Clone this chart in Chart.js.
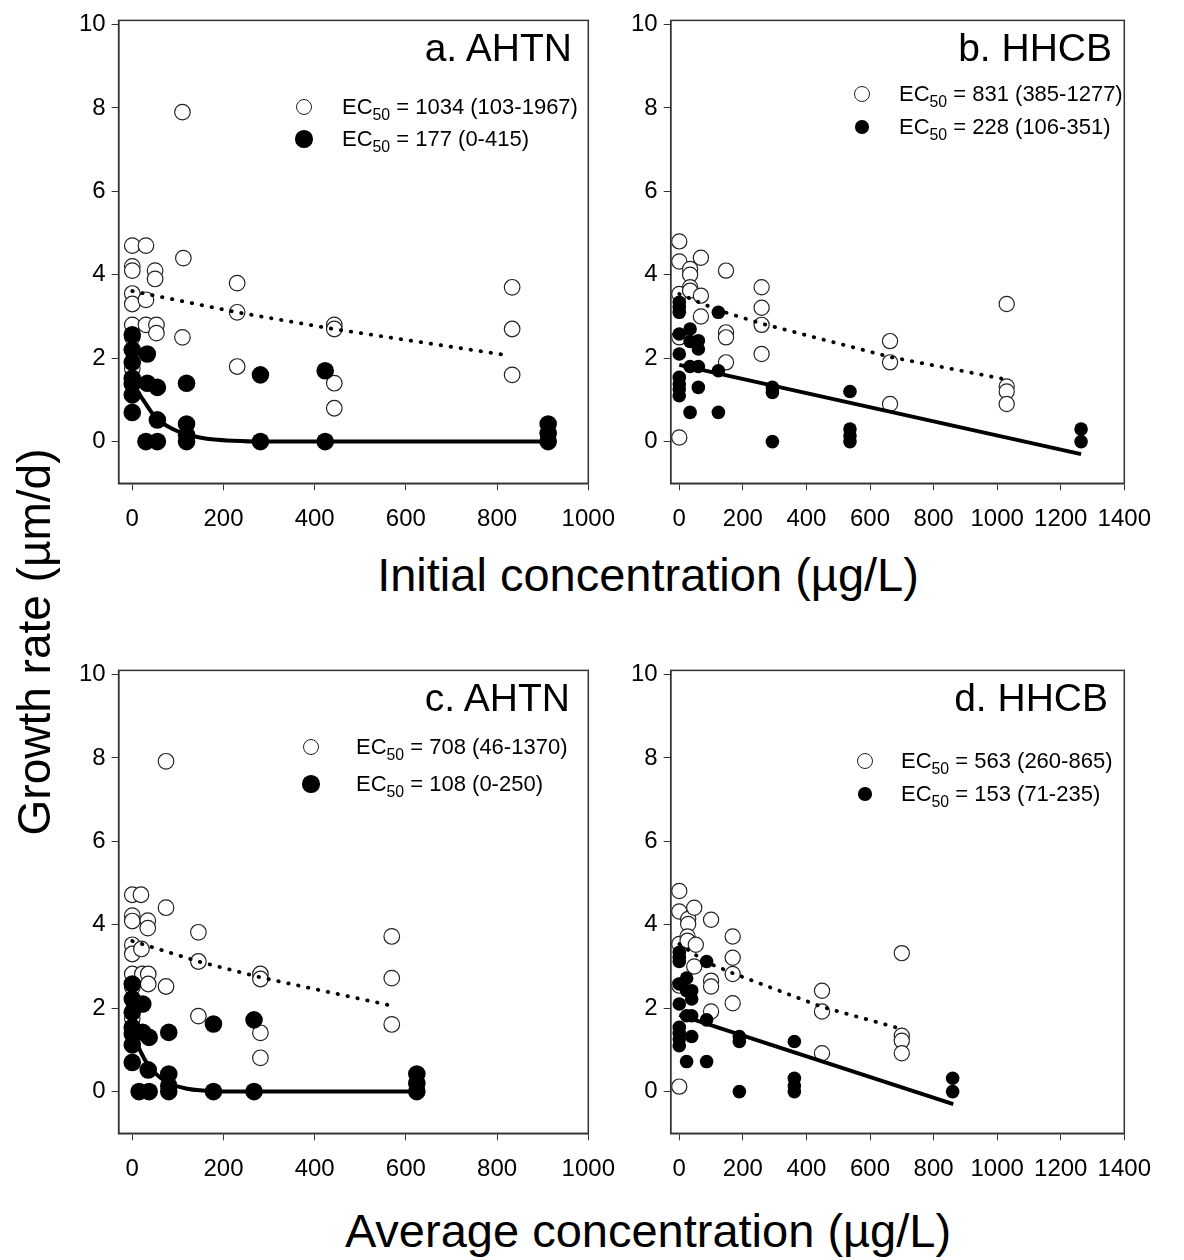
<!DOCTYPE html>
<html><head><meta charset="utf-8">
<script src="https://cdn.jsdelivr.net/npm/chart.js@4.4.0/dist/chart.umd.min.js"></script>
<style>
html,body{margin:0;padding:0;background:#fff;}
#wrap{position:relative;width:1184px;height:1260px;overflow:hidden;font-family:'Liberation Sans',Arial,sans-serif;color:#000;}
canvas{position:absolute;}
.t{position:absolute;white-space:nowrap;line-height:1;}
.lg{position:absolute;white-space:nowrap;line-height:1;font-size:22px;}
.lg sub{font-size:0.72em;vertical-align:-6px;line-height:0;}
.mk{position:absolute;border-radius:50%;box-sizing:border-box;}
</style></head><body>
<div id="wrap">
<canvas id="ca" width="600" height="545" style="left:30px;top:0px"></canvas>
<canvas id="cb" width="584" height="545" style="left:600px;top:0px"></canvas>
<canvas id="cc" width="600" height="545" style="left:30px;top:650px"></canvas>
<canvas id="cd" width="584" height="545" style="left:600px;top:650px"></canvas>
</div>
<script>
// ---------- data ----------
const yTicks = [0, 2, 4, 6, 8, 10];
const xTicksAHTN = [0, 200, 400, 600, 800, 1000];
const xTicksHHCB = [0, 200, 400, 600, 800, 1000, 1200, 1400];

// a. AHTN (initial concentration)
const aOpenX = [0,0,0,0,0,0,0,0, 30,30,30, 50,50,53,53, 110,112,110, 230,230,230, 443,443,443,443, 833,833,833];
const aOpenY = [4.7,4.2,4.1,3.55,3.3,2.8,2.5,1.75, 4.7,3.4,2.8, 4.1,3.9,2.8,2.6, 7.9,4.4,2.5, 3.8,3.1,1.8, 2.8,2.7,1.4,0.8, 3.7,2.7,1.6];
const aFillX = [0,0,0,0,0,0,0, 33,33,30, 55,55,55, 119,119,119,119, 281,281, 423,423, 912,912,912];
const aFillY = [2.56,2.2,1.9,1.52,1.38,1.12,0.7, 2.1,1.4,0, 1.3,0.52,0, 1.4,0.42,0.16,0, 1.6,0, 1.7,0, 0.42,0.2,0];
const aDotX = [0, 230, 441, 817];
const aDotY = [3.61, 3.1, 2.7, 2.08];
const aFitX = [0, 13, 30, 46, 70, 97, 120, 148, 180, 221, 280, 912];
const aFitY = [1.42, 1.18, 0.9, 0.65, 0.42, 0.26, 0.17, 0.1, 0.05, 0.02, 0, 0];

// b. HHCB (initial concentration)
const bOpenX = [0,0,0,0,0, 34,34,34,34, 68,68,68, 147,147,147,147, 259,259,259,259, 663,663,663, 1030,1030,1030,1030];
const bOpenY = [4.8,4.32,3.54,2.5,0.1, 4.14,4.0,3.7,3.62, 4.41,3.5,3.0, 4.1,2.62,2.5,1.9, 3.7,3.21,2.8,2.1, 2.41,1.9,0.9, 3.3,1.32,1.2,0.9];
const bFillX = [0,0,0,0,0,0,0,0,0, 34,34,34,34, 60,60,60,60, 123,123,123, 293,293,293, 537,537,537,537, 1264,1264];
const bFillY = [3.34,3.22,3.1,2.58,2.1,1.54,1.38,1.26,1.1, 2.7,2.4,1.8,0.7, 2.42,2.22,1.8,1.3, 3.1,1.7,0.7, 1.3,1.18,0, 1.2,0.3,0.14,0, 0.3,0];
const bDotX = [0, 123, 259, 663, 1022];
const bDotY = [3.54, 3.15, 2.83, 2.03, 1.5];
const bFitX = [0, 1264];
const bFitY = [1.84, -0.3];

// c. AHTN (average concentration)
const cOpenX = [0,0,0,0,0,0,0,0, 19,20,22, 34,34,35,35, 74,74,74, 145,145,145, 281,281,281,281, 569,569,569];
const cOpenY = [4.72,4.22,4.09,3.52,3.3,2.82,2.5,1.75, 4.72,3.42,2.82, 4.1,3.92,2.82,2.58, 7.92,4.41,2.52, 3.82,3.12,1.81, 2.82,2.7,1.41,0.81, 3.72,2.72,1.61];
const cFillX = [0,0,0,0,0,0,0, 23,23,15, 37,35,37, 80,80,80,80, 178,178, 267,267, 624,624,624];
const cFillY = [2.58,2.22,1.9,1.54,1.38,1.12,0.7, 2.1,1.42,0, 1.3,0.52,0, 1.42,0.42,0.14,0, 1.62,0, 1.72,0, 0.42,0.2,0];
const cDotX = [0, 145, 281, 569];
const cDotY = [3.61, 3.12, 2.74, 2.06];
const cFitX = [0, 9, 20, 31, 45, 61, 80, 97, 120, 148, 192, 624];
const cFitY = [1.4, 1.18, 0.92, 0.7, 0.5, 0.34, 0.2, 0.13, 0.07, 0.03, 0, 0];

// d. HHCB (average concentration)
const dOpenX = [0,0,0,0,0, 28,28,26,26, 47,52,47, 100,100,100,100, 168,168,168,168, 449,449,449, 700,700,700,700];
const dOpenY = [4.81,4.32,3.54,2.54,0.12, 4.14,4.02,3.72,3.62, 4.41,3.52,3.0, 4.12,2.66,2.52,1.92, 3.72,3.21,2.82,2.12, 2.42,1.92,0.92, 3.32,1.34,1.22,0.92];
const dFillX = [0,0,0,0,0,0,0,0,0, 23,23,23,23, 39,39,39,39, 86,86,86, 189,189,189, 362,362,362,362, 860,860];
const dFillY = [3.34,3.22,3.12,2.58,2.1,1.54,1.4,1.26,1.1, 2.72,2.42,1.82,0.72, 2.42,2.22,1.82,1.32, 3.12,1.72,0.72, 1.32,1.2,0, 1.2,0.32,0.14,0, 0.32,0];
const dDotX = [0, 86, 168, 449, 700];
const dDotY = [3.54, 3.1, 2.84, 2.03, 1.5];
const dFitX = [0, 862];
const dFitY = [1.84, -0.3];

// ---------- drawing ----------
const FONT = "'Liberation Sans', Arial, sans-serif";
const zip = (xs, ys) => xs.map((x, i) => ({x: x, y: ys[i]}));

const framePlugin = {
  id: 'frame',
  afterDraw(chart) {
    const {ctx, chartArea: a} = chart;
    ctx.save();
    ctx.strokeStyle = '#333';
    ctx.lineWidth = 1.5;
    ctx.strokeRect(a.left, a.top, a.right - a.left, a.bottom - a.top);
    ctx.restore();
  }
};

function makePanel(id, cfg) {
  const ds = [
    {data: zip(cfg.fitX, cfg.fitY), showLine: true, pointRadius: 0, borderColor: '#000', borderWidth: 4,
     cubicInterpolationMode: cfg.curve ? 'monotone' : 'default', tension: 0, fill: false},
    {data: zip(cfg.dotX, cfg.dotY), showLine: true, pointRadius: 0, borderColor: '#000', borderWidth: 3.8,
     borderDash: [0.5, 9.6], borderCapStyle: 'round', tension: 0, fill: false},
    {data: zip(cfg.fillX, cfg.fillY), showLine: false, pointRadius: cfg.fillR, pointBorderWidth: 0,
     pointBackgroundColor: '#000', pointBorderColor: '#000'},
    {data: zip(cfg.openX, cfg.openY), showLine: false, pointRadius: cfg.openR, pointBorderWidth: 1.2,
     pointBackgroundColor: '#fff', pointBorderColor: '#222'}
  ];
  return new Chart(document.getElementById(id), {
    type: 'scatter',
    data: {datasets: ds},
    options: {
      responsive: false, animation: false, devicePixelRatio: 1,
      layout: {padding: {top: 15.3, right: cfg.padR, left: 0, bottom: 0}},
      plugins: {legend: {display: false}, tooltip: {enabled: false}},
      scales: {
        x: {
          type: 'linear', min: cfg.xmin, max: cfg.xmax,
          afterBuildTicks: s => { s.ticks = cfg.xTicks.map(v => ({value: v})); },
          afterFit: s => { s.height = 545 - 483.3; },
          grid: {drawOnChartArea: false, drawTicks: true, tickLength: 7, color: '#333', lineWidth: 1},
          border: {display: true, color: '#333', width: 1.5},
          ticks: {font: {size: 24, family: FONT}, color: '#000', padding: 15, maxRotation: 0, autoSkip: false,
                  callback: v => String(v)}
        },
        y: {
          type: 'linear', min: -1, max: 10.1,
          afterBuildTicks: s => { s.ticks = yTicks.map(v => ({value: v})); },
          afterFit: s => { s.width = cfg.yW; },
          grid: {drawOnChartArea: false, drawTicks: true, tickLength: 7, color: '#333', lineWidth: 1},
          border: {display: true, color: '#333', width: 1.5},
          ticks: {font: {size: 24, family: FONT}, color: '#000', padding: 6, callback: v => String(v)}
        }
      }
    },
    plugins: [framePlugin]
  });
}

makePanel('ca', {xmin: -30, xmax: 1000, xTicks: xTicksAHTN, yW: 88.6, padR: 41.7, fillR: 8.8, openR: 7.8, curve: true,
  openX: aOpenX, openY: aOpenY, fillX: aFillX, fillY: aFillY, dotX: aDotX, dotY: aDotY, fitX: aFitX, fitY: aFitY});
makePanel('cb', {xmin: -27, xmax: 1400, xTicks: xTicksHHCB, yW: 70.7, padR: 59.7, fillR: 6.8, openR: 7.6, curve: false,
  openX: bOpenX, openY: bOpenY, fillX: bFillX, fillY: bFillY, dotX: bDotX, dotY: bDotY, fitX: bFitX, fitY: bFitY});
makePanel('cc', {xmin: -30, xmax: 1000, xTicks: xTicksAHTN, yW: 88.6, padR: 41.7, fillR: 8.8, openR: 7.8, curve: true,
  openX: cOpenX, openY: cOpenY, fillX: cFillX, fillY: cFillY, dotX: cDotX, dotY: cDotY, fitX: cFitX, fitY: cFitY});
makePanel('cd', {xmin: -27, xmax: 1400, xTicks: xTicksHHCB, yW: 70.7, padR: 59.7, fillR: 6.8, openR: 7.6, curve: false,
  openX: dOpenX, openY: dOpenY, fillX: dFillX, fillY: dFillY, dotX: dDotX, dotY: dDotY, fitX: dFitX, fitY: dFitY});

// ---------- texts ----------
const wrap = document.getElementById('wrap');
function addText(html, cls, style) {
  const d = document.createElement('div');
  d.className = cls; d.innerHTML = html; d.setAttribute('style', style);
  wrap.appendChild(d); return d;
}
function addMarker(cx, cy, d, filled) {
  const m = document.createElement('div');
  m.className = 'mk';
  m.setAttribute('style', `left:${cx - d / 2}px;top:${cy - d / 2}px;width:${d}px;height:${d}px;` +
    (filled ? 'background:#000;' : 'background:#fff;border:1.2px solid #222;'));
  wrap.appendChild(m);
}
// panel titles (right aligned)
const titles = [['a. AHTN', 572, 61], ['b. HHCB', 1112, 61], ['c. AHTN', 570, 711], ['d. HHCB', 1108, 711]];
titles.forEach(([s, r, base]) => addText(s, 't', `font-size:39px;right:${1184 - r}px;top:${base - 0.8465 * 39}px;`));

// legends: [markerX, y1, y2, textX, openD, fillD, text1, text2]
const legends = [
  [304, 107, 139, 342, 16, 17.5, 'EC<sub>50</sub> = 1034 (103-1967)', 'EC<sub>50</sub> = 177 (0-415)'],
  [862, 94, 127, 899, 16, 13.5, 'EC<sub>50</sub> = 831 (385-1277)', 'EC<sub>50</sub> = 228 (106-351)'],
  [311, 747, 784, 356, 16, 17.5, 'EC<sub>50</sub> = 708 (46-1370)', 'EC<sub>50</sub> = 108 (0-250)'],
  [865, 761, 794, 901, 16, 13.5, 'EC<sub>50</sub> = 563 (260-865)', 'EC<sub>50</sub> = 153 (71-235)']
];
legends.forEach(([mx, y1, y2, tx, od, fd, t1, t2]) => {
  addMarker(mx, y1, od, false);
  addMarker(mx, y2, fd, true);
  addText(t1, 'lg', `left:${tx}px;top:${y1 - 10.7}px;`);
  addText(t2, 'lg', `left:${tx}px;top:${y2 - 10.7}px;`);
});

// axis titles
addText('Initial concentration (µg/L)', 't', `font-size:47px;left:${648 - 400}px;width:800px;text-align:center;top:${591 - 0.8465 * 47}px;`);
addText('Average concentration (µg/L)', 't', `font-size:47px;left:${648 - 400}px;width:800px;text-align:center;top:${1247 - 0.8465 * 47}px;`);
addText('Growth rate (µm/d)', 't', `font-size:46px;left:${34 - 300}px;width:600px;text-align:center;top:${642 - 23}px;transform:rotate(-90deg);transform-origin:50% 50%;`);
</script>
</body></html>
